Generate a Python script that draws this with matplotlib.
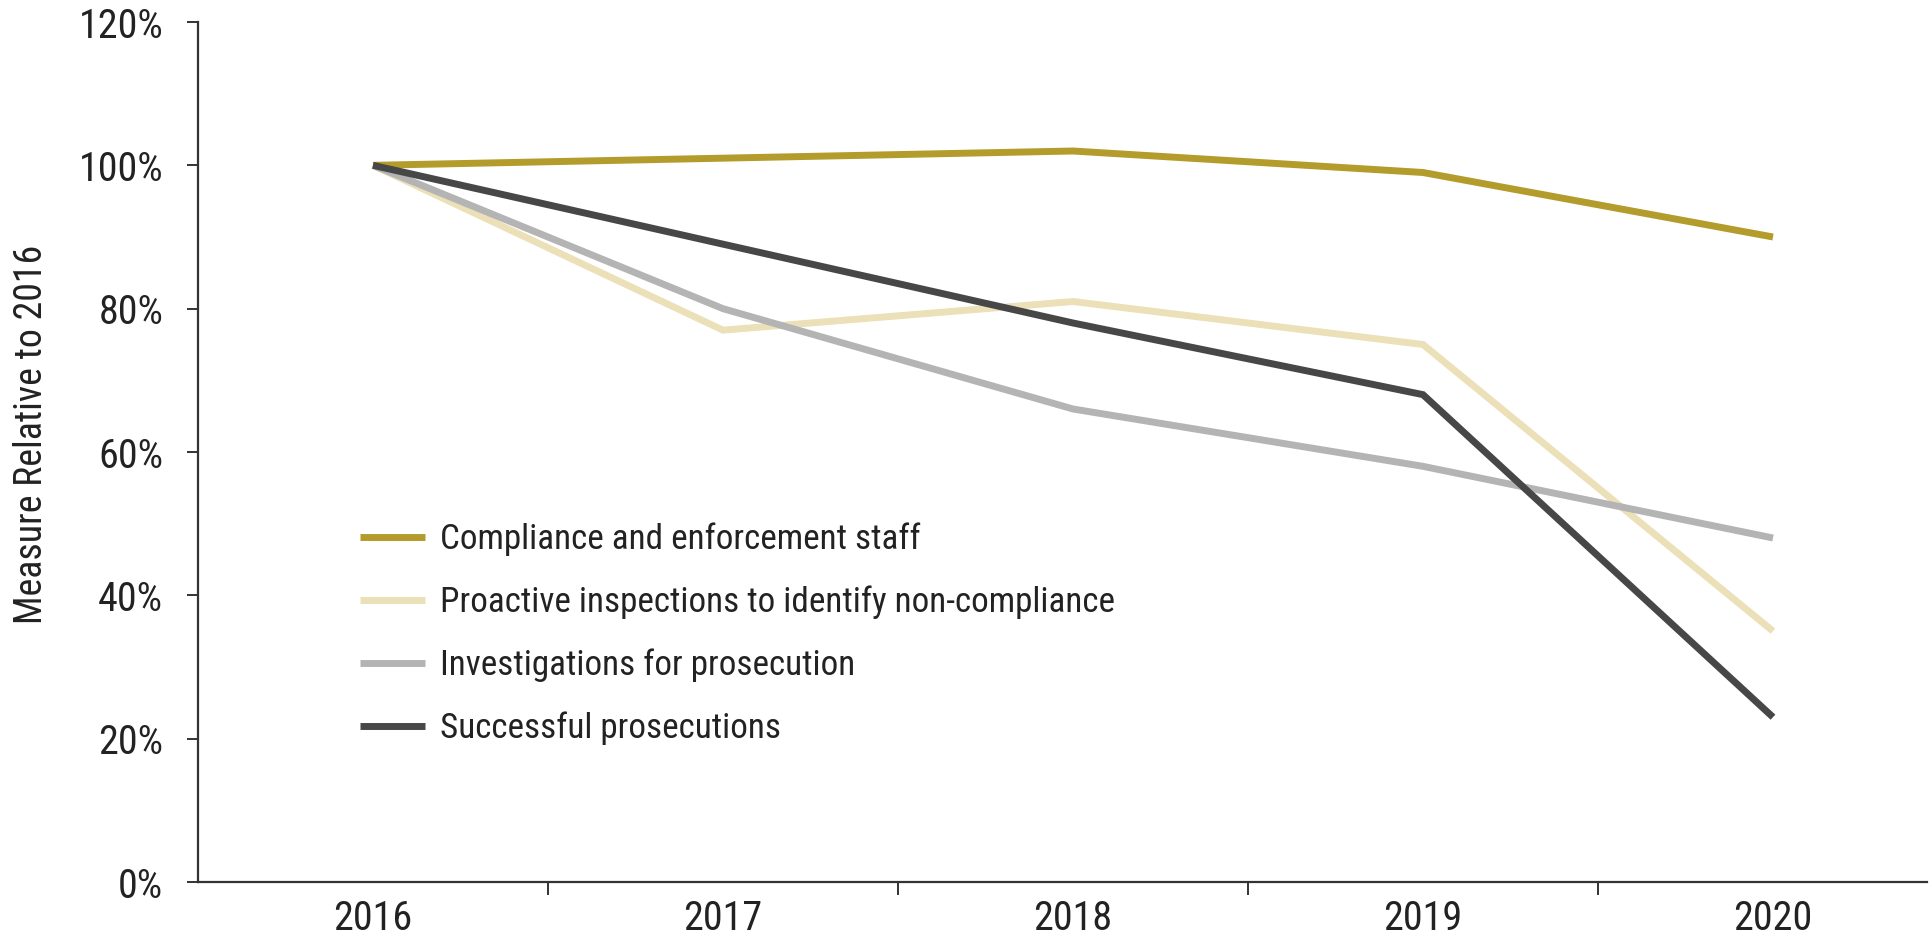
import matplotlib
matplotlib.use("Agg")
import matplotlib.pyplot as plt
from matplotlib.ticker import FixedLocator, PercentFormatter
from matplotlib import font_manager

years = ["2016", "2017", "2018", "2019", "2020"]
compliance_staff = [100, 101, 102, 99, 90]
proactive_inspections = [100, 77, 81, 75, 35]
investigations = [100, 80, 66, 58, 48]
successful_prosecutions = [100, 89, 78, 68, 23]

labels = [
    "Compliance and enforcement staff",
    "Proactive inspections to identify non-compliance",
    "Investigations for prosecution",
    "Successful prosecutions",
]
colors = ["#B49C2C", "#ECE0B9", "#B4B4B4", "#474747"]
y_title = "Measure Relative to 2016"

names = {f.name for f in font_manager.fontManager.ttflist}
fam = "DejaVu Sans"
for cand in ["Roboto Condensed", "Archivo Narrow", "IBM Plex Sans Condensed",
             "PT Sans Narrow", "Liberation Sans Narrow", "News Cycle"]:
    if cand in names:
        fam = cand
        break
plt.rcParams["font.family"] = [fam, "DejaVu Sans"]

W, H = 1931, 936
fig = plt.figure(figsize=(W / 100, H / 100), dpi=100)
renderer = fig.canvas.get_renderer()


def size_for(text, target_px, rotation=0):
    t = fig.text(0, 0, text, fontsize=10, rotation=rotation)
    bb = t.get_window_extent(renderer)
    t.remove()
    ext = bb.height if rotation else bb.width
    return 10 * target_px / ext


tick_fs = size_for("2016", 78)
leg_fs = size_for(labels[1], 670)
ylab_fs = size_for(y_title, 375, rotation=90)

ax = fig.add_axes([198 / W, 1 - 882 / H, (1927 - 198) / W, (882 - 22) / H])

x = list(range(len(years)))
series = [compliance_staff, proactive_inspections, investigations, successful_prosecutions]
order = [1, 2, 0, 3]
handles = {}
for i in order:
    ln, = ax.plot(x, series[i], color=colors[i], lw=5.0, solid_capstyle="butt",
                  solid_joinstyle="miter", label=labels[i])
    handles[i] = ln

ax.set_xlim(-0.5, 4.44)
ax.set_ylim(0, 120)
ax.set_yticks([0, 20, 40, 60, 80, 100, 120])
ax.yaxis.set_major_formatter(PercentFormatter(decimals=0))
ax.set_xticks(x)
ax.set_xticklabels(years)
ax.xaxis.set_minor_locator(FixedLocator([0.5, 1.5, 2.5, 3.5]))
ax.tick_params(axis="x", which="major", length=0, pad=12, labelsize=tick_fs, labelcolor="#222222")
ax.tick_params(axis="x", which="minor", length=9, width=1.4, direction="out", color="#333333")
ax.tick_params(axis="y", which="major", length=8, width=1.4, direction="out", pad=17,
               labelsize=tick_fs, labelcolor="#222222", color="#333333")

for s in ["top", "right"]:
    ax.spines[s].set_visible(False)
for s in ["left", "bottom"]:
    ax.spines[s].set_linewidth(1.6)
    ax.spines[s].set_color("#333333")

fig.text(32 / W, 1 - 434 / H, y_title, rotation=90, ha="center", va="center",
         fontsize=ylab_fs, color="#222222")

# legend layout (pixel targets)
leg_px = leg_fs * 100 / 72
t = fig.text(0, 0, labels[0], fontsize=leg_fs)
th = t.get_window_extent(renderer).height
t.remove()
row_gap = 63
leg = ax.legend([handles[i] for i in range(4)], labels, loc="upper left",
                bbox_to_anchor=(360 / W, 1 - (539 - th / 2) / H),
                bbox_transform=fig.transFigure,
                frameon=False, fontsize=leg_fs, borderpad=0, borderaxespad=0,
                handlelength=65 / leg_px, handletextpad=15 / leg_px,
                labelspacing=(row_gap - th) / leg_px, labelcolor="#222222")

fig.savefig("out.png", dpi=100, facecolor="white")
